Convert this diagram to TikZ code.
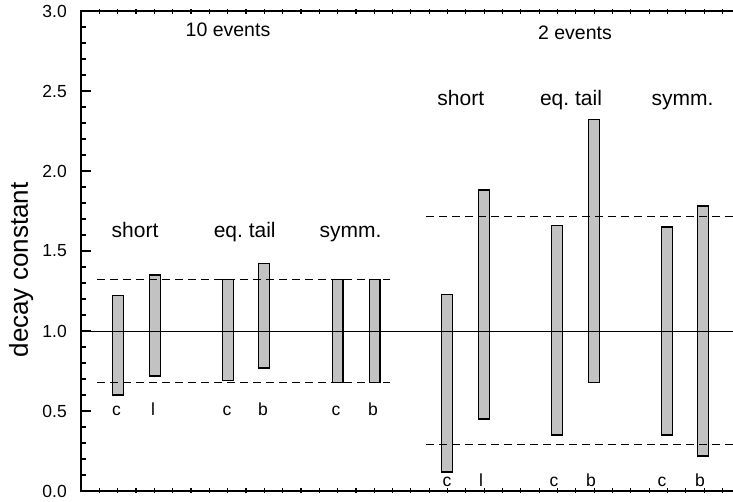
\documentclass[tikz,border=0pt]{standalone}
\usepackage{fontspec}
\setmainfont{Liberation Sans}

\definecolor{BarColor}{rgb}{0.76,0.76,0.76}
\tikzstyle{axis}=[line width=1.6pt]
\tikzstyle{bar}=[draw=black, line width=1.4pt, fill={BarColor}]
\tikzstyle{bound}=[line width=1.1pt, dash pattern=on 8pt off 5pt]
\tikzstyle{ticklabel}=[anchor=east, inner sep=0pt, font=\fontsize{17.5}{21}\selectfont]
\tikzstyle{events}=[anchor=base, inner sep=0pt, font=\fontsize{19.5}{23}\selectfont]
\tikzstyle{group}=[anchor=base, inner sep=0pt, font=\fontsize{21}{25}\selectfont]
\tikzstyle{letter}=[anchor=base, inner sep=0pt, font=\fontsize{17.5}{21}\selectfont]

\begin{document}
\begin{tikzpicture}[x=1pt, y=1pt]
    \useasboundingbox (0,0) rectangle (733,501);

    \node at (28, 231)   (ylabel)    [anchor=base, rotate=90, inner sep=0pt,
                                      font=\fontsize{26}{31}\selectfont] {decay constant};
    \node at (228, 464)  (ten_ev)    [events] {10 events};
    \node at (575, 461)  (two_ev)    [events] {2 events};

    \node at (135.0, 263.7) (ten_short) [group] {short};
    \node at (244.7, 263.7) (ten_eq)    [group] {eq.\ tail};
    \node at (350.5, 263.7) (ten_symm)  [group] {symm.};
    \node at (460.8, 395.0) (two_short) [group] {short};
    \node at (571.0, 395.0) (two_eq)    [group] {eq.\ tail};
    \node at (682.5, 395.0) (two_symm)  [group] {symm.};

    \node at (116.5, 86)   (ten_c1) [letter] {c};
    \node at (153.0, 86)   (ten_l)  [letter] {l};
    \node at (227.0, 86)   (ten_c2) [letter] {c};
    \node at (263.0, 86)   (ten_b2) [letter] {b};
    \node at (336.0, 86)   (ten_c3) [letter] {c};
    \node at (373.0, 86)   (ten_b3) [letter] {b};
    \node at (447.0, 14.5) (two_c1) [letter] {c};
    \node at (481.0, 14.5) (two_l)  [letter] {l};
    \node at (554.0, 14.5) (two_c2) [letter] {c};
    \node at (591.0, 14.5) (two_b2) [letter] {b};
    \node at (662.0, 14.5) (two_c3) [letter] {c};
    \node at (700.0, 14.5) (two_b3) [letter] {b};

    \begin{scope}[shift={(0,10)}, y=160pt]
        % frame (cut off at the right)
        \draw[axis] (733,3) -- (81,3) -- (81,0) -- (733,0);
        \foreach \v [count=\i] in {0.0,0.5,1.0,1.5,2.0,2.5,3.0} {
            \draw[axis] (81,\v) -- ++(10pt,0);
            \node at (67,\v) (tick\i) [ticklabel] {\v};
        }
        \foreach \i in {1,...,29}
            \draw[line width=1.2pt] (81,\i*0.1) -- ++(5pt,0);
        \foreach \k in {1,...,35} {
            \draw[line width=1.1pt] (81+18.33*\k,0) ++(0,-2pt) -- ++(0,5pt);
            \draw[line width=1.1pt] (81+18.33*\k,3) ++(0,2pt) -- ++(0,-5pt);
        }

        % 10 events
        \draw[bar] (112.7,0.60) rectangle (123.3,1.22);
        \draw[bar] (149.7,0.72) rectangle (160.3,1.35);
        \draw[bar] (222.7,0.69) rectangle (233.3,1.32);
        \draw[bar] (258.7,0.77) rectangle (269.3,1.42);
        \draw[bar] (332.2,0.68) rectangle (342.8,1.32);
        \draw[bar] (369.2,0.68) rectangle (379.8,1.32);
        % 2 events
        \draw[bar] (441.7,0.12) rectangle (452.3,1.23);
        \draw[bar] (478.7,0.45) rectangle (489.3,1.88);
        \draw[bar] (551.7,0.35) rectangle (562.3,1.66);
        \draw[bar] (588.7,0.68) rectangle (599.3,2.32);
        \draw[bar] (661.7,0.35) rectangle (672.3,1.65);
        \draw[bar] (697.7,0.22) rectangle (708.3,1.78);

        \draw[line width=1pt] (81,1) -- (733,1);
        \draw[bound] (97,1.323)  -- (390,1.323);
        \draw[bound] (97,0.68)   -- (390,0.68);
        \draw[bound] (426,1.714) -- (733,1.714);
        \draw[bound] (426,0.289) -- (733,0.289);
    \end{scope}
\end{tikzpicture}
\end{document}
